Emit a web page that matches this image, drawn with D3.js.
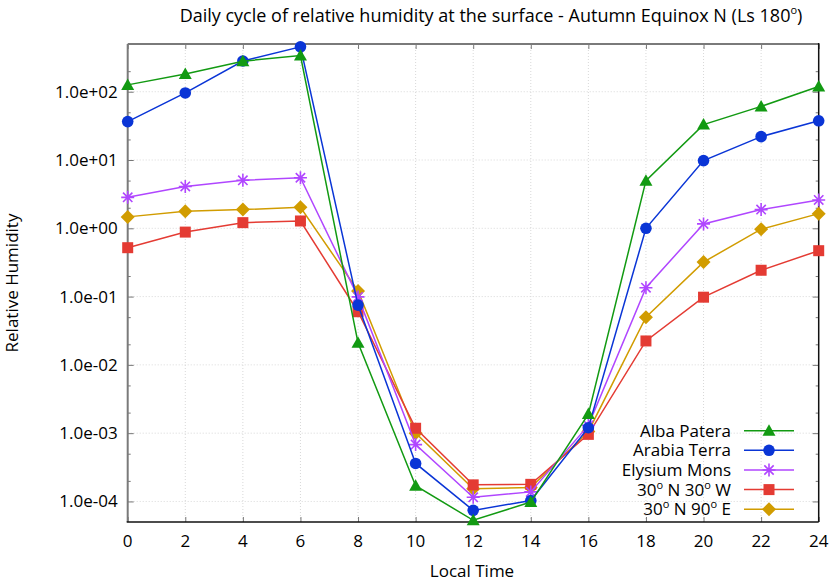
<!DOCTYPE html>
<html>
<head>
<meta charset="utf-8">
<script src="https://cdn.jsdelivr.net/npm/d3@7"></script>
<style>
  body { margin: 0; background: #fff; }
  text { font-family: "Open Sans", sans-serif; fill: #000; }
</style>
</head>
<body>
<script>
// local time (hours)
var hours = [0, 2, 4, 6, 8, 10, 12, 14, 16, 18, 20, 22, 24];

// relative humidity
var albaPatera   = [126, 182, 280, 338, 0.021, 1.7e-4, 5.3e-5, 9.8e-5, 1.9e-3, 4.98, 33, 61, 119];
var arabiaTerra  = [36.5, 96, 282, 455, 0.075, 3.6e-4, 7.4e-5, 1.03e-4, 1.2e-3, 1.0, 9.8, 22, 37.5];
var elysiumMons  = [2.84, 4.1, 5.05, 5.5, 0.099, 6.8e-4, 1.15e-4, 1.38e-4, 1.3e-3, 0.135, 1.16, 1.88, 2.6];
var n30w30       = [0.52, 0.88, 1.21, 1.28, 0.060, 1.18e-3, 1.75e-4, 1.78e-4, 0.96e-3, 0.0224, 0.098, 0.243, 0.47];
var n30e90       = [1.47, 1.77, 1.88, 2.03, 0.121, 1.0e-3, 1.53e-4, 1.6e-4, 1.06e-3, 0.050, 0.32, 0.97, 1.64];

var seriesNames  = ["Alba Patera", "Arabia Terra", "Elysium Mons", "30|N 30|W", "30|N 90|E"];
var seriesColors = ["#129a12", "#0a35d6", "#b046ff", "#e43b33", "#d19c00"];
var seriesShapes = ["triangle", "circle", "star", "square", "diamond"];
var seriesData   = [albaPatera, arabiaTerra, elysiumMons, n30w30, n30e90];

var xTicks = [0, 2, 4, 6, 8, 10, 12, 14, 16, 18, 20, 22, 24];
var yTicks = [1e-4, 1e-3, 1e-2, 1e-1, 1e0, 1e1, 1e2];

drawChart();

function drawChart(){

    var width = 831, height = 583;
    var plotLeft = 127.7, plotRight = 818.7, plotTop = 44, plotBottom = 522;

    var svg = d3.select("body").append("svg")
        .attr("width", width)
        .attr("height", height);

    var x = d3.scaleLinear().domain([0, 24]).range([plotLeft, plotRight]);
    var y = d3.scaleLog().domain([5e-5, 500]).range([plotBottom, plotTop]);

    // minor ticks at 2x and 5x every decade
    var yMinor = [];
    [-5, -4, -3, -2, -1, 0, 1, 2].forEach(function(e){
        [2, 5].forEach(function(m){
            var v = m * Math.pow(10, e);
            if (v > 5e-5 && v < 500) yMinor.push(v);
        });
    });

    function expFormat(v){
        var e = Math.round(Math.log10(v));
        var s = e < 0 ? "-" : "+";
        var a = Math.abs(e);
        return "1.0e" + s + (a < 10 ? "0" + a : a);
    }

    //grid
    var grid = svg.append("g").attr("stroke", "#d8d8d8").attr("stroke-dasharray", "1,2").attr("stroke-width", 1);
    xTicks.slice(1, -1).forEach(function(t){
        grid.append("line").attr("x1", x(t)).attr("x2", x(t)).attr("y1", plotTop).attr("y2", plotBottom);
    });
    yTicks.forEach(function(t){
        grid.append("line").attr("x1", plotLeft).attr("x2", plotRight).attr("y1", y(t)).attr("y2", y(t));
    });

    //axes built with d3 then styled like the gnuplot frame
    var yAxisL = svg.append("g").attr("transform", "translate(" + plotLeft + ",0)")
        .call(d3.axisRight(y).tickValues(yTicks).tickSize(6).tickFormat(""));
    var yAxisLm = svg.append("g").attr("transform", "translate(" + plotLeft + ",0)")
        .call(d3.axisRight(y).tickValues(yMinor).tickSize(3).tickFormat(""));
    var yAxisR = svg.append("g").attr("transform", "translate(" + plotRight + ",0)")
        .call(d3.axisLeft(y).tickValues(yTicks).tickSize(6).tickFormat(""));
    var yAxisRm = svg.append("g").attr("transform", "translate(" + plotRight + ",0)")
        .call(d3.axisLeft(y).tickValues(yMinor).tickSize(3).tickFormat(""));
    var xAxisB = svg.append("g").attr("transform", "translate(0," + plotBottom + ")")
        .call(d3.axisTop(x).tickValues(xTicks).tickSize(5).tickFormat(""));
    var xAxisT = svg.append("g").attr("transform", "translate(0," + plotTop + ")")
        .call(d3.axisBottom(x).tickValues(xTicks).tickSize(5).tickFormat(""));
    [yAxisL, yAxisLm, yAxisR, yAxisRm, xAxisB, xAxisT].forEach(function(g){
        g.select(".domain").remove();
        g.selectAll(".tick line").attr("stroke", "#777").attr("stroke-width", 1);
    });

    //tick labels
    svg.append("g").selectAll("text").data(yTicks).enter().append("text")
        .attr("x", plotLeft - 10)
        .attr("y", function(d){ return y(d) + 6; })
        .attr("text-anchor", "end")
        .attr("font-size", 17)
        .text(expFormat);
    svg.append("g").selectAll("text").data(xTicks).enter().append("text")
        .attr("x", function(d){ return x(d); })
        .attr("y", 547)
        .attr("text-anchor", "middle")
        .attr("font-size", 17)
        .text(function(d){ return d; });

    //frame
    svg.append("line").attr("x1", plotLeft).attr("x2", plotLeft).attr("y1", plotTop).attr("y2", plotBottom)
        .attr("stroke", "#7a7a7a").attr("stroke-width", 2);
    svg.append("line").attr("x1", plotLeft).attr("x2", plotRight).attr("y1", plotTop).attr("y2", plotTop)
        .attr("stroke", "#7a7a7a").attr("stroke-width", 2);
    svg.append("line").attr("x1", plotLeft - 1).attr("x2", plotRight).attr("y1", plotBottom).attr("y2", plotBottom)
        .attr("stroke", "#111").attr("stroke-width", 1.5);
    svg.append("line").attr("x1", plotRight).attr("x2", plotRight).attr("y1", plotTop - 1).attr("y2", plotBottom)
        .attr("stroke", "#111").attr("stroke-width", 1.5);

    //markers
    function drawMarker(g, shape, cx, cy, color){
        if (shape === "circle"){
            g.append("circle").attr("cx", cx).attr("cy", cy).attr("r", 5.8).attr("fill", color);
        } else if (shape === "triangle"){
            g.append("path").attr("d", "M" + cx + "," + (cy - 6.5) + "L" + (cx + 6.5) + "," + (cy + 5) + "L" + (cx - 6.5) + "," + (cy + 5) + "Z")
                .attr("fill", color);
        } else if (shape === "square"){
            g.append("rect").attr("x", cx - 5.5).attr("y", cy - 5.5).attr("width", 11).attr("height", 11).attr("fill", color);
        } else if (shape === "diamond"){
            g.append("path").attr("d", "M" + cx + "," + (cy - 7) + "L" + (cx + 7) + "," + cy + "L" + cx + "," + (cy + 7) + "L" + (cx - 7) + "," + cy + "Z")
                .attr("fill", color);
        } else if (shape === "star"){
            var r = 6.5, d = r * 0.72;
            g.append("path")
                .attr("d", "M" + (cx - r) + "," + cy + "H" + (cx + r) + "M" + cx + "," + (cy - r) + "V" + (cy + r) +
                           "M" + (cx - d) + "," + (cy - d) + "L" + (cx + d) + "," + (cy + d) +
                           "M" + (cx - d) + "," + (cy + d) + "L" + (cx + d) + "," + (cy - d))
                .attr("stroke", color).attr("stroke-width", 1.6).attr("fill", "none");
        }
    }

    var line = d3.line()
        .x(function(d, i){ return x(hours[i]); })
        .y(function(d){ return y(d); });

    // draw in reverse so Alba Patera is on top
    for (var s = seriesData.length - 1; s >= 0; s--){
        var g = svg.append("g");
        g.append("path").datum(seriesData[s]).attr("d", line)
            .attr("fill", "none").attr("stroke", seriesColors[s]).attr("stroke-width", 1.5);
        seriesData[s].forEach(function(v, i){
            drawMarker(g, seriesShapes[s], x(hours[i]), y(v), seriesColors[s]);
        });
    }

    //legend
    var legendY = [430.7, 450.3, 470, 489.6, 509.2];
    seriesNames.forEach(function(name, i){
        var t = svg.append("text")
            .attr("x", 731)
            .attr("y", legendY[i] + 6)
            .attr("text-anchor", "end")
            .attr("font-size", 17);
        if (name.indexOf("|") < 0){
            t.text(name);
        } else {
            // "30|N 30|W" -> 30 with superscript o
            var parts = name.split("|");
            parts.forEach(function(p, k){
                t.append("tspan").text(p);
                if (k < parts.length - 1){
                    t.append("tspan").attr("font-size", 11).attr("dy", -7).text("o");
                    t.append("tspan").attr("dy", 7).text(" ");
                }
            });
        }
        svg.append("line").attr("x1", 744).attr("x2", 794).attr("y1", legendY[i]).attr("y2", legendY[i])
            .attr("stroke", seriesColors[i]).attr("stroke-width", 1.5);
        drawMarker(svg, seriesShapes[i], 769, legendY[i], seriesColors[i]);
    });

    //titles
    var title = svg.append("text")
        .attr("x", 491)
        .attr("y", 22)
        .attr("text-anchor", "middle")
        .attr("font-size", 18);
    title.append("tspan").text("Daily cycle of relative humidity at the surface - Autumn Equinox N (Ls 180");
    title.append("tspan").attr("font-size", 11).attr("dy", -8).text("o");
    title.append("tspan").attr("dy", 8).text(")");

    svg.append("text")
        .attr("x", 472)
        .attr("y", 577)
        .attr("text-anchor", "middle")
        .attr("font-size", 17)
        .text("Local Time");

    svg.append("text")
        .attr("transform", "translate(18,283) rotate(-90)")
        .attr("text-anchor", "middle")
        .attr("font-size", 17)
        .text("Relative Humidity");
}
</script>
</body>
</html>
